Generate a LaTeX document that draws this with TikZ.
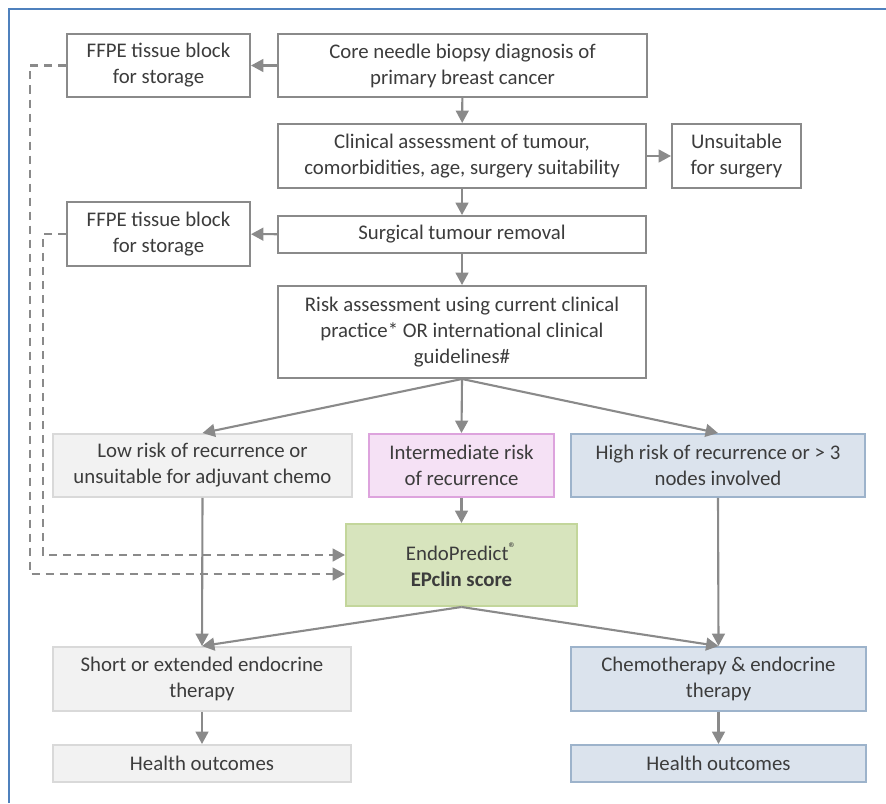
\documentclass[tikz,border=0pt]{standalone}
\usepackage{fontspec}
\setmainfont{Carlito}
\usetikzlibrary{arrows.meta}
\definecolor{txt}{HTML}{3C3C3C}
\definecolor{arr}{HTML}{8A8A8A}
\definecolor{lowfill}{HTML}{F2F2F2}
\definecolor{lowline}{HTML}{D9D9D9}
\definecolor{midfill}{HTML}{F5E1F5}
\definecolor{midline}{HTML}{DDA3DD}
\definecolor{highfill}{HTML}{DBE3ED}
\definecolor{highline}{HTML}{9DB3CB}
\definecolor{epfill}{HTML}{D7E4BD}
\definecolor{epline}{HTML}{C3D69B}
\definecolor{frameblue}{HTML}{4F81BD}

\begin{document}
\begin{tikzpicture}[x=0.025cm, y=-0.025cm,
    every node/.style={font=\fontsize{14.8}{18.5}\selectfont, text=txt, align=center, inner sep=0pt, line width=1.4pt},
    boxsize/.style 2 args={minimum width=#1*0.025cm, minimum height=#2*0.025cm},
    wbox/.style={draw=arr, fill=white},
    lowbox/.style={draw=lowline, fill=lowfill},
    midbox/.style={draw=midline, fill=midfill},
    highbox/.style={draw=highline, fill=highfill},
    epbox/.style={draw=epline, fill=epfill},
    conn/.style={draw=arr, line width=1.5pt, ->},
    dconn/.style={conn, dash pattern=on 0.2cm off 0.15cm},
    >={Triangle[length=0.31cm, width=0.32cm]}]
    \useasboundingbox (0,0) rectangle (886,803);
    %% frame
    \draw[frameblue, line width=1.4pt] (9,803) -- (9,9) -- (886,9);
    %% top column
    \draw (158.5, 65.5) node[wbox, boxsize={183}{63}](ffpeA){FFPE tissue block\\for storage};
    \draw (462.5, 65.5) node[wbox, boxsize={369}{63}](core){Core needle biopsy diagnosis of\\primary breast cancer};
    \draw (462, 156) node[wbox, boxsize={368}{64}](clin){Clinical assessment of tumour,\\comorbidities, age, surgery suitability};
    \draw (736.5, 156) node[wbox, boxsize={129}{64}](unsuit){Unsuitable\\for surgery};
    \draw (158.5, 234) node[wbox, boxsize={183}{64}](ffpeB){FFPE tissue block\\for storage};
    \draw (462, 234.5) node[wbox, boxsize={368}{37}](surg){Surgical tumour removal};
    \draw (462, 332) node[wbox, boxsize={368}{92}](risk){Risk assessment using current clinical\\practice* OR international clinical\\guidelines\#};
    %% risk groups
    \draw (202.5, 465.5) node[lowbox, boxsize={299}{63}](low){Low risk of recurrence or\\unsuitable for adjuvant chemo};
    \draw (461.5, 465.5) node[midbox, boxsize={185}{63}](mid){Intermediate risk\\of recurrence};
    \draw (718, 465.5) node[highbox, boxsize={294}{63}](high){High risk of recurrence or > 3\\nodes involved};
    \draw (461.5, 565) node[epbox, boxsize={231}{82}](ep){EndoPredict\textsuperscript{\fontsize{11}{11}\selectfont ®}\\\textbf{EPclin score}};
    %% treatment and outcomes
    \draw (202, 679) node[lowbox, boxsize={298}{64}](shortT){Short or extended endocrine\\therapy};
    \draw (718.5, 679) node[highbox, boxsize={295}{64}](chemoT){Chemotherapy \& endocrine\\therapy};
    \draw (202, 763.5) node[lowbox, boxsize={298}{37}](healthL){Health outcomes};
    \draw (718.5, 763.5) node[highbox, boxsize={295}{37}](healthR){Health outcomes};
    %% -- arrows down the main column
    \draw[conn] (core) -- (ffpeA);
    \draw[conn] (core) -- (clin);
    \draw[conn] (clin) -- (unsuit);
    \draw[conn] (clin) -- (surg);
    \draw[conn] (surg) -- (ffpeB);
    \draw[conn] (surg) -- (risk);
    %% -- arrows to the risk groups
    \draw[conn] (risk.south) -- (low.north);
    \draw[conn] (risk.south) -- (mid.north);
    \draw[conn] (risk.south) -- (high.north);
    \draw[conn] (mid) -- (ep);
    %% -- arrows to the treatments
    \draw[conn] (low.south) -- (shortT.north);
    \draw[conn] (high.south) -- (chemoT.north);
    \draw[conn] (ep.south) -- (shortT.north);
    \draw[conn] (ep.south) -- (chemoT.north);
    \draw[conn] (shortT) -- (healthL);
    \draw[conn] (chemoT) -- (healthR);
    %% -- stored blocks
    \coordinate (dA) at (30, 574);
    \coordinate (dB) at (43, 555);
    \draw[dconn] (ffpeA.west) -| (dA) -- (dA -| ep.west);
    \draw[dconn] (ffpeB.west) -| (dB) -- (dB -| ep.west);
\end{tikzpicture}
\end{document}
